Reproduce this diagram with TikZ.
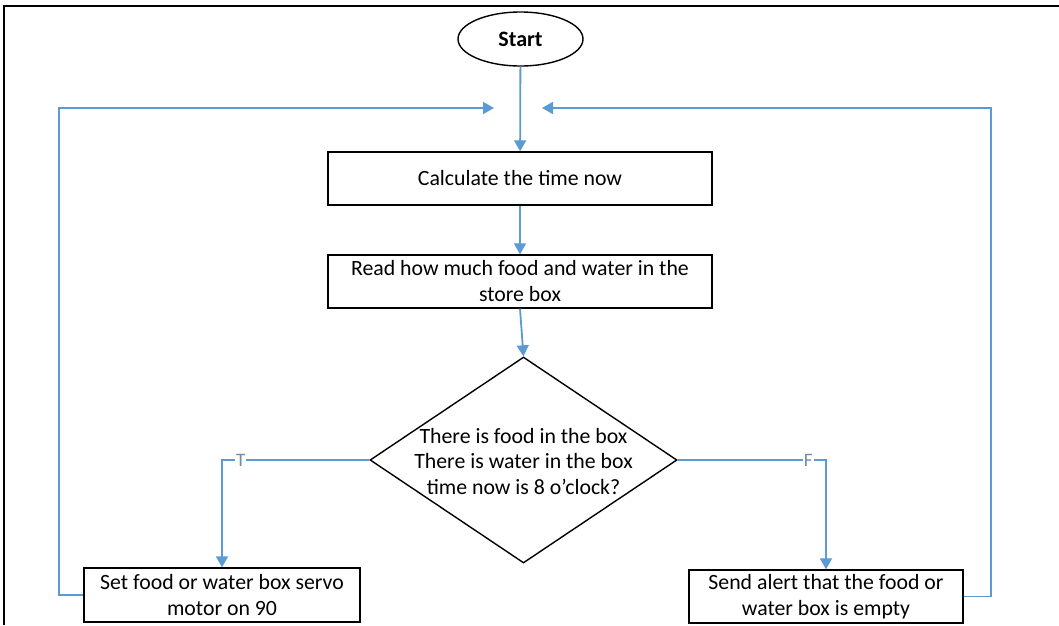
\documentclass[tikz,border=0pt]{standalone}
\usepackage{fontspec}
\setmainfont{Carlito}
\usetikzlibrary{shapes.geometric,arrows.meta}
\definecolor{conn}{RGB}{91,155,213}
\definecolor{lbl}{RGB}{110,140,175}
\begin{document}
\begin{tikzpicture}[x=1pt,y=-1pt,
  box/.style={draw=black, line width=1.4pt, minimum width=384pt, minimum height=53pt, inner sep=0pt, align=center, font=\fontsize{21.8}{26}\selectfont},
  flow/.style={draw=conn, line width=1.8pt, -{Triangle[length=11pt,width=12pt]}},
  tf/.style={fill=white, inner sep=1pt, text=lbl, font=\fontsize{19}{22}\selectfont}]
\useasboundingbox (0,0) rectangle (1059,625);
\fill[white] (0,0) rectangle (1059,625);
\draw[line width=2.8pt] (4,625) -- (4,6) -- (1059,6);

\node[ellipse, draw, line width=1.4pt, minimum width=125pt, minimum height=54pt, inner sep=0pt, font=\bfseries\fontsize{22}{26}\selectfont] (start) at (520.5,39) {Start};
\node[box] (calc) at (520,178.5) {Calculate the time now};
\node[box] (read) at (520,281.5) {Read how much food and water in the\\[0pt]store box};
\node[diamond, draw, line width=1.4pt, minimum width=307pt, minimum height=206pt, inner sep=0pt] (dec) at (523.5,460) {};
\node[align=center, font=\fontsize{21.8}{25.5}\selectfont] (dectext) at (523.5,461) {There is food in the box\\There is water in the box\\time now is 8 o’clock?};
\node[box, minimum width=276pt, minimum height=54pt] (servo) at (222,595) {Set food or water box servo\\motor on 90};
\node[box, minimum width=274pt, minimum height=53pt] (alert) at (826,596.5) {Send alert that the food or\\water box is empty};

\coordinate (lt) at (494,108);
\coordinate (rt) at (542,108);

\draw[flow] (start) -- (calc);
\draw[flow] (calc) -- (read);
\draw[flow] (read.south) -- (dec.north);
\draw[flow] (dec.west) -| node[tf, pos=0.436] (tlab) {T} (servo.north);
\draw[flow] (dec.east) -| node[tf, pos=0.44] (flab) {F} (alert.north);
\draw[flow] (servo.west) -- ++(-24,0) |- (lt);
\draw[flow] (alert.east) -- ++(27,0) |- (rt);
\end{tikzpicture}
\end{document}
